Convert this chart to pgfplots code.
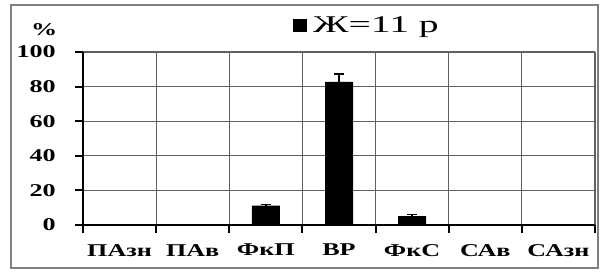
\documentclass[border=0pt]{standalone}
\usepackage{fontspec}
\setmainfont{Liberation Serif}
\usepackage{graphicx}
\usepackage{pgfplots}
\pgfplotsset{compat=1.18}
\newcommand\sx[1]{\scalebox{1.45}[1]{\textbf{#1}}}
\begin{document}
\begin{tikzpicture}
\path[use as bounding box] (0pt,0pt) rectangle (601pt,271pt);
\draw[black!50, line width=1.2pt] (11pt,3pt) rectangle (598pt,266pt);
\begin{axis}[
  at={(83pt,46pt)}, anchor=south west,
  scale only axis, width=512pt, height=173pt,
  xmin=-0.5, xmax=6.5, ymin=0, ymax=100,
  axis x line*=bottom, axis y line*=left,
  axis line style={black, line width=1.8pt},
  xtick={-0.5,0.5,1.5,2.5,3.5,4.5,5.5,6.5},
  xticklabels={\sx{ПАзн},\sx{ПАв},\sx{ФкП},\sx{ВР},\sx{ФкС},\sx{САв},\sx{САзн},{}},
  ytick={0,20,40,60,80,100},
  yticklabels={\sx{0},\sx{20},\sx{40},\sx{60},\sx{80},\sx{100}},
  xmajorgrids=true, ymajorgrids=true,
  y grid style={black!62, line width=1.1pt},
  x grid style={black!62, line width=1.1pt},
  major tick style={black, line width=2pt},
  tick align=outside,
  major tick length=8pt,
  tick label style={font=\fontsize{18}{20}\selectfont, inner sep=0pt},
  xticklabel style={anchor=north, yshift=-11pt, xshift=36.57pt},
  yticklabel style={anchor=east, xshift=-19pt},
  legend style={at={(axis description cs:0.41,1.156)}, anchor=west, draw=none, fill=none,
    font=\fontsize{24}{26}\selectfont, inner sep=0pt},
  legend image code/.code={\fill[black] (0pt,-6.5pt) rectangle (14pt,6.5pt);},
  clip=false,
]
\addplot[ybar, bar width=28pt, fill=black, draw=none,
  error bars/.cd, y dir=both, y explicit,
  error bar style={black, line width=1.4pt},
  error mark options={rotate=90, mark size=5pt, black, line width=1.4pt}]
  coordinates {(2,11.2) +- (0,0.6) (3,82.8) +- (0,4.5) (4,5.2) +- (0,1.0)};
\addlegendentry{\hspace{4pt}\scalebox{1.65}[1]{Ж=11 р}}
\node[font=\fontsize{18}{20}\selectfont] at (axis description cs:-0.076,1.127) {\sx{\%}};
% outward tick marks (axis decoration)
\pgfplotsinvokeforeach{-0.5,0.5,1.5,2.5,3.5,4.5,5.5,6.5}{
  \draw[black, line width=1.8pt] (axis cs:#1,0) -- ++(0pt,-6pt);
}
\pgfplotsinvokeforeach{0,20,40,60,80,100}{
  \draw[black, line width=1.8pt] (axis cs:-0.5,#1) -- ++(-8pt,0pt);
}
\end{axis}
\end{tikzpicture}
\end{document}
